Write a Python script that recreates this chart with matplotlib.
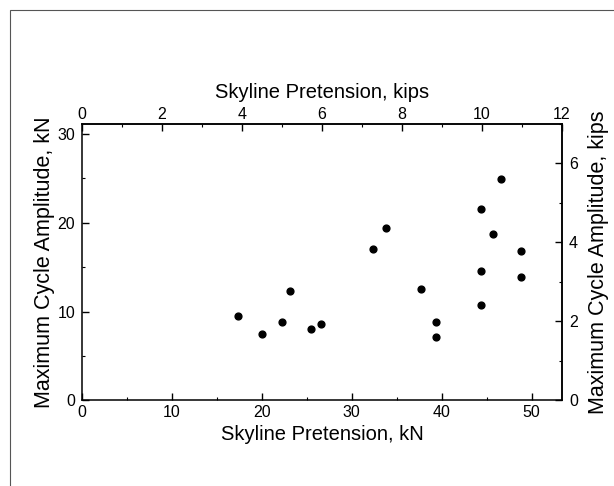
import numpy as np
import matplotlib.pyplot as plt
from matplotlib.patches import Rectangle
from matplotlib.ticker import MultipleLocator

plt.rcParams['font.family'] = ['Liberation Sans', 'DejaVu Sans']

KN_PER_KIP = 4.448

# skyline pretension (kN) and maximum cycle amplitude (kN)
pretension_kn = [17.3, 20.0, 22.2, 23.1, 25.5, 26.6, 32.4, 33.8, 37.7, 39.4,
                 39.4, 44.4, 44.4, 44.4, 45.7, 46.6, 48.8, 48.8]
amplitude_kn = [9.5, 7.5, 8.8, 12.3, 8.1, 8.6, 17.0, 19.4, 12.6, 8.8,
                7.1, 21.6, 14.6, 10.8, 18.7, 24.9, 16.8, 13.9]

fig = plt.figure(figsize=(6.14, 4.86), dpi=100)
ax = fig.add_axes([0.1336, 0.176, 0.7817, 0.569])

# outer page frame
fig.patches.append(Rectangle((10 / 614, -0.05), 1.1, 1 - 10 / 486 + 0.05,
                             transform=fig.transFigure, fill=False,
                             edgecolor='#555555', linewidth=0.8))

ax.scatter(pretension_kn, amplitude_kn, s=24, color='black', zorder=3)

ax.set_xlim(0, 12 * KN_PER_KIP)
ax.set_ylim(0, 7 * KN_PER_KIP)
ax.xaxis.set_major_locator(MultipleLocator(10))
ax.xaxis.set_minor_locator(MultipleLocator(5))
ax.yaxis.set_major_locator(MultipleLocator(10))
ax.yaxis.set_minor_locator(MultipleLocator(5))

ax.set_xlabel("Skyline Pretension, kN", fontsize=14.5, labelpad=3.5)
ax.set_ylabel("Maximum Cycle Amplitude, kN", fontsize=15.5, labelpad=2)

secx = ax.secondary_xaxis('top', functions=(lambda v: v / KN_PER_KIP, lambda v: v * KN_PER_KIP))
secx.xaxis.set_major_locator(MultipleLocator(2))
secx.xaxis.set_minor_locator(MultipleLocator(1))
secx.set_xlabel("Skyline Pretension, kips", fontsize=14.5, labelpad=6.5)

secy = ax.secondary_yaxis('right', functions=(lambda v: v / KN_PER_KIP, lambda v: v * KN_PER_KIP))
secy.yaxis.set_major_locator(MultipleLocator(2))
secy.yaxis.set_minor_locator(MultipleLocator(1))
secy.set_ylabel("Maximum Cycle Amplitude, kips", fontsize=15.5, labelpad=7)

for a in (ax, secx, secy):
    a.tick_params(which='major', direction='in', length=5, width=1, labelsize=11.5)
    a.tick_params(which='minor', direction='in', length=2.5, width=0.8)
ax.tick_params(axis='x', pad=3.5)
ax.tick_params(axis='y', pad=5)
secx.tick_params(axis='x', pad=1.5)
secy.tick_params(axis='y', pad=5)

for s in ax.spines.values():
    s.set_linewidth(1.1)
for a in (secx, secy):
    for s in a.spines.values():
        s.set_linewidth(1.1)

fig.savefig("out.png", dpi=100)
